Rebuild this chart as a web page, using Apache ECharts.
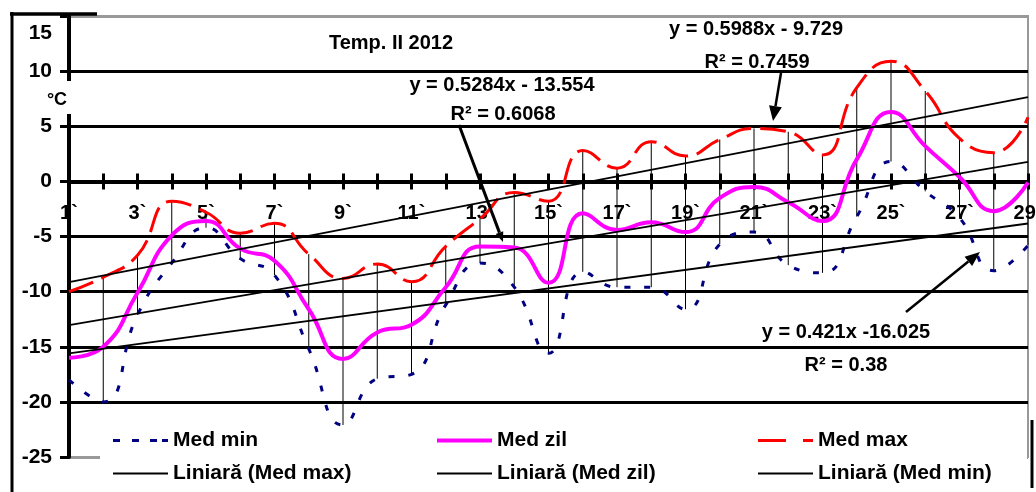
<!DOCTYPE html>
<html><head><meta charset="utf-8">
<script src="https://cdn.jsdelivr.net/npm/echarts@6.0.0/dist/echarts.min.js"></script>
<style>html,body{margin:0;padding:0;background:#fff}#c{width:1036px;height:492px}</style>
</head><body><div id="c"></div>
<script>
// ---- data ----
const days = ['1`','2`','3`','4`','5`','6`','7`','8`','9`','10`','11`','12`','13`','14`','15`','16`','17`','18`','19`','20`','21`','22`','23`','24`','25`','26`','27`','28`','29`'];
const medMax = [-10.0, -8.7, -6.7, -1.8, -2.8, -4.7, -3.8, -6.6, -8.8, -7.5, -9.1, -5.9, -3.4, -1.0, -1.8, 2.8, 1.2, 3.6, 2.3, 3.8, 4.8, 4.5, 2.4, 8.5, 10.9, 8.2, 3.9, 2.6, 5.8];
const medZil = [-16.0, -15.0, -10.1, -4.9, -3.6, -6.1, -7.2, -11.6, -16.1, -13.7, -13.0, -9.6, -5.9, -6.0, -9.2, -2.9, -4.4, -3.7, -4.6, -1.5, -0.5, -1.9, -3.6, 2.0, 6.3, 3.2, 0.4, -2.7, -0.1];
const medMin = [-18.0, -20.0, -12.1, -7.4, -4.2, -7.0, -8.5, -15.2, -22.1, -17.9, -17.5, -11.2, -7.4, -9.6, -15.6, -8.2, -9.6, -9.6, -11.6, -5.7, -4.6, -7.6, -8.3, -3.2, 1.8, -0.9, -3.3, -8.1, -5.8];
// trend line end values (first and last day)
const trendMax = [-9.13, 7.64];
const trendZil = [-13.03, 1.77];
const trendMin = [-15.60, -3.82];
const yTicks = [-25, 15, 5];
const eqTexts = ['y = 0.5988x - 9.729', 'R\u00B2 = 0.7459', 'y = 0.5284x - 13.554', 'R\u00B2 = 0.6068', 'y = 0.421x -16.025', 'R\u00B2 = 0.38'];
const titleText = 'Temp. II 2012';
const unitText = '\u00B0C';

const FF = '"Liberation Sans", Arial, sans-serif';
const chart = echarts.init(document.getElementById('c'), null, {renderer: 'canvas'});
const last = days.length - 1;

// grid geometry
const G = {left: 69, right: 8, top: 16, bottom: 35};
const plotH = 492 - G.top - G.bottom;
const zeroOffset = -plotH * (0 - yTicks[0]) / (yTicks[1] - yTicks[0]); // move x axis from bottom edge up to value 0

function arrow(x1, y1, x2, y2, head, w, lw) {
  const a = Math.atan2(y2 - y1, x2 - x1);
  const bx = x2 - head * Math.cos(a), by = y2 - head * Math.sin(a);
  const px = -Math.sin(a) * w / 2, py = Math.cos(a) * w / 2;
  return [
    {type: 'line', z: 50, shape: {x1: x1, y1: y1, x2: bx, y2: by}, style: {stroke: '#000', lineWidth: lw}},
    {type: 'polygon', z: 50, shape: {points: [[x2, y2], [bx + px, by + py], [bx - px, by - py]]}, style: {fill: '#000'}}
  ];
}
function txt(x, y, s, size) {
  return {type: 'text', z: 50, x: x, y: y, style: {text: s, fill: '#000', font: 'bold ' + size + 'px ' + FF, textAlign: 'center', textVerticalAlign: 'middle'}};
}

const icons = {
  min: 'path://M0,0L0,0M0,0.5h7v3h-7zM19,0.5h7v3h-7zM37,0.5h7v3h-7zM49,0.5h6v3h-6zM55,4L55,4',
  zil: 'path://M0,0h55v4h-55z',
  max: 'path://M0,0L0,0M0,0.5h28v3h-28zM45,0.5h10v3h-10zM55,4L55,4',
  trend: 'path://M0,0L0,0M0,1h55v2h-55zM55,4L55,4'
};

const legendBase = {
  orient: 'vertical', top: 430, padding: 0, itemGap: 12, itemWidth: 55, itemHeight: 4,
  textStyle: {fontFamily: FF, fontWeight: 'bold', fontSize: 21, color: '#000', lineHeight: 21},
  z: 10
};

chart.setOption({
  animation: false,
  backgroundColor: '#fff',
  grid: Object.assign({show: true, borderColor: '#999', borderWidth: 2, outerBoundsMode: 'none', containLabel: false}, G),
  xAxis: [{
    type: 'category', data: days, boundaryGap: false, position: 'bottom', offset: zeroOffset,
    axisLine: {onZero: false, lineStyle: {color: '#000', width: 4}},
    axisTick: {show: true, interval: 0, length: 8, lineStyle: {color: '#000', width: 3}},
    axisLabel: {interval: 1, margin: 22, fontFamily: FF, fontWeight: 'bold', fontSize: 20, color: '#000'},
    splitLine: {show: false}
  }, {
    type: 'category', data: days, boundaryGap: false, position: 'bottom', offset: zeroOffset,
    axisLine: {show: false, onZero: false},
    axisTick: {show: true, inside: true, interval: 0, length: 8, lineStyle: {color: '#000', width: 3}},
    axisLabel: {show: false}, splitLine: {show: false}
  }],
  yAxis: [{
    type: 'value', min: yTicks[0], max: yTicks[1], interval: yTicks[2],
    axisLine: {show: true, onZero: false, lineStyle: {color: '#000', width: 4}},
    axisTick: {show: true, length: 9, lineStyle: {color: '#000', width: 3}},
    axisLabel: {
      margin: 17, fontFamily: FF, fontWeight: 'bold', fontSize: 21, color: '#000',
      formatter: v => v === yTicks[1] ? '{t|' + v + '}' : String(v),
      rich: {t: {padding: [34, 0, 0, 0], fontFamily: FF, fontWeight: 'bold', fontSize: 21, color: '#000'}}
    },
    splitLine: {show: true, lineStyle: {color: ['#999', '#000', '#000', '#000', '#000', '#000', '#000', '#000', '#999'], width: 3}}
  }],
  legend: [
    Object.assign({left: 113, data: [{name: 'Med min', icon: icons.min}, {name: 'Liniar\u0103 (Med max)', icon: icons.trend}]}, legendBase),
    Object.assign({left: 437, data: [{name: 'Med zil', icon: icons.zil}, {name: 'Liniar\u0103 (Med zil)', icon: icons.trend}]}, legendBase),
    Object.assign({left: 758, data: [{name: 'Med max', icon: icons.max}, {name: 'Liniar\u0103 (Med min)', icon: icons.trend}]}, legendBase)
  ],
  series: [
    {
      name: 'hl', type: 'custom', z: 1,
      data: days.map((d, i) => [i, medMax[i], medMin[i]]),
      encode: {x: 0, y: [1, 2]},
      renderItem: (params, api) => {
        const p1 = api.coord([api.value(0), api.value(1)]);
        const p2 = api.coord([api.value(0), api.value(2)]);
        return {type: 'line', shape: {x1: p1[0], y1: p1[1], x2: p2[0], y2: p2[1]}, style: {stroke: '#000', lineWidth: 1}};
      },
      silent: true
    },
    {name: 'Med min', type: 'line', data: medMin, smooth: true, symbol: 'none', z: 3,
      lineStyle: {color: '#000080', width: 3, type: [6, 14]}, itemStyle: {color: '#000080'}},
    {name: 'Med zil', type: 'line', data: medZil, smooth: true, symbol: 'none', z: 3,
      lineStyle: {color: '#ff00ff', width: 4}, itemStyle: {color: '#ff00ff'}},
    {name: 'Med max', type: 'line', data: medMax, smooth: true, symbol: 'none', z: 3,
      lineStyle: {color: '#ff0000', width: 3, type: [26, 9]}, itemStyle: {color: '#ff0000'}},
    {name: 'Liniar\u0103 (Med max)', type: 'line', data: [[0, trendMax[0]], [last, trendMax[1]]], symbol: 'none', z: 4,
      lineStyle: {color: '#000', width: 1.8}, itemStyle: {color: '#000'}},
    {name: 'Liniar\u0103 (Med zil)', type: 'line', data: [[0, trendZil[0]], [last, trendZil[1]]], symbol: 'none', z: 4,
      lineStyle: {color: '#000', width: 1.8}, itemStyle: {color: '#000'}},
    {name: 'Liniar\u0103 (Med min)', type: 'line', data: [[0, trendMin[0]], [last, trendMin[1]]], symbol: 'none', z: 4,
      lineStyle: {color: '#000', width: 1.8}, itemStyle: {color: '#000'}}
  ],
  graphic: {elements: [
    {type: 'rect', z: 3, shape: {x: 100, y: 428, width: 927, height: 64}, style: {fill: '#fff'}},
    {type: 'rect', z: 45, shape: {x: 63, y: 81, width: 12, height: 33}, style: {fill: '#fff'}},
    {type: 'line', z: 60, shape: {x1: 12, y1: 12, x2: 12, y2: 492}, style: {stroke: '#000', lineWidth: 3}},
    {type: 'line', z: 60, shape: {x1: 10, y1: 14, x2: 97, y2: 14}, style: {stroke: '#000', lineWidth: 3.5}},
    {type: 'line', z: 60, shape: {x1: 1032, y1: 420, x2: 1032, y2: 488}, style: {stroke: '#000', lineWidth: 3}},
    txt(391, 43, titleText, 20),
    txt(57, 100, unitText, 18),
    txt(756, 29, eqTexts[0], 20),
    txt(757, 62, eqTexts[1], 20),
    txt(502, 85, eqTexts[2], 20),
    txt(503, 114, eqTexts[3], 20),
    txt(846, 332, eqTexts[4], 20),
    txt(846, 365, eqTexts[5], 20)
  ].concat(arrow(459, 125, 503, 242, 10, 8, 3))
   .concat(arrow(781, 73, 773, 121, 15, 13, 2.5))
   .concat(arrow(906, 312, 980, 252, 15, 12, 2.5))}
});
</script></body></html>
